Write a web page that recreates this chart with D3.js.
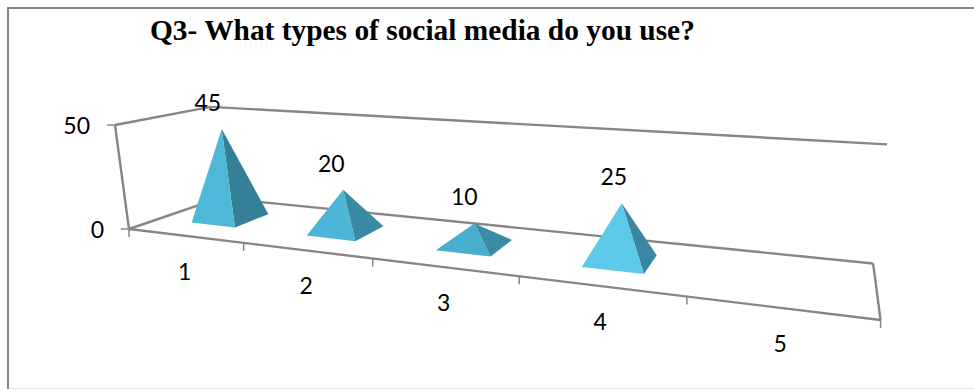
<!DOCTYPE html>
<html><head><meta charset="utf-8">
<script src="https://cdn.jsdelivr.net/npm/d3@7"></script>
<style>html,body{margin:0;padding:0;background:#fff}svg{display:block}</style>
</head><body><div id="c"></div>
<script>
const title = "Q3- What types of social media do you use?";
const categories = ["1","2","3","4","5"];
const values = [45,20,10,25,null];
const yTicks = [0,50];
const frontColors = ["#4FB8D8","#4DB6D8","#47AECD","#5DC9E8"];
const sideColors = ["#357F97","#3A8AA3","#3B8BA5","#3A87A2"];

const W=974,H=390;
const svg=d3.select("#c").append("svg").attr("width",W).attr("height",H);
const line="#868686";

// scales into the chart's unit box
const xS=d3.scaleLinear().domain([0,categories.length]).range([0,1]);
const zS=d3.scaleLinear().domain([0,50]).range([0,1]);

// perspective camera of the 3-D plot box
function project(u,v,z){
  const w=1-0.28*u+0.1476*v-0.0338*z;
  return [(129+505*u+123.5*v-17.9*z)/w,(229+1.4*u-1.8*v-108.2*z)/w];
}
const path=pts=>"M"+pts.map(p=>p.join(",")).join("L");
function seg(a,b,sw=2.4){svg.append("path").attr("d",path([a,b])).attr("fill","none").attr("stroke",line).attr("stroke-width",sw);}

// outer frame
svg.append("path").attr("d","M8,389V8H974").attr("fill","none").attr("stroke",line).attr("stroke-width",2);
svg.append("path").attr("d","M9,388.5H974").attr("fill","none").attr("stroke","#e6e6e6").attr("stroke-width",1);

// box
const p=(i,v,val)=>project(xS(i),v,zS(val));
const n=categories.length;
seg(p(0,0,0),p(0,1,0));
seg(p(0,1,0),p(n,1,0));
seg(p(n,1,0),p(n,0,0));
seg(p(0,0,0),p(n,0,0));
seg(p(0,0,0),p(0,0,50));
seg(p(0,0,50),p(0,1,50));
seg(p(0,1,50),p(n,1,50));
// ticks
d3.range(n+1).forEach(i=>{const a=p(i,0,0);seg(a,[a[0],a[1]+8],1.5);});
yTicks.forEach(t=>{
  const a=p(0,0,t);seg(a,[a[0]-8,a[1]],1.5);
  svg.append("text").attr("x",a[0]-25).attr("y",a[1]+9).attr("text-anchor","end").text(t);
});

// pyramids
const du=0.039*categories.length,dv=0.2;
values.forEach((val,i)=>{
  if(val==null)return;
  const c=i+0.5;
  const L=p(c-du,0.5-dv,0),F=p(c+du,0.5-dv,0),R=p(c+du,0.5+dv,0),A=p(c,0.5,val);
  svg.append("path").attr("d",path([F,R,A])+"Z").attr("fill",sideColors[i]);
  svg.append("path").attr("d",path([L,F,A])+"Z").attr("fill",frontColors[i]);
  const dx=d3.scaleLinear().domain([0,3]).range([-14,-8])(i);
  svg.append("text").attr("x",A[0]+dx).attr("y",A[1]-18).attr("text-anchor","middle").text(val);
});
// category labels
categories.forEach((c,i)=>{
  const a=p(i+0.5,0,0);
  svg.append("text").attr("x",a[0]).attr("y",a[1]+44).attr("text-anchor","middle").text(c);
});
svg.selectAll("text").attr("font-family","Lato, sans-serif").attr("font-size",23).attr("fill","#000");
svg.append("text").attr("x",150).attr("y",40).attr("font-family","'Liberation Serif',serif").attr("font-weight","bold").attr("font-size",29.4).attr("fill","#000").text(title);
</script></body></html>
